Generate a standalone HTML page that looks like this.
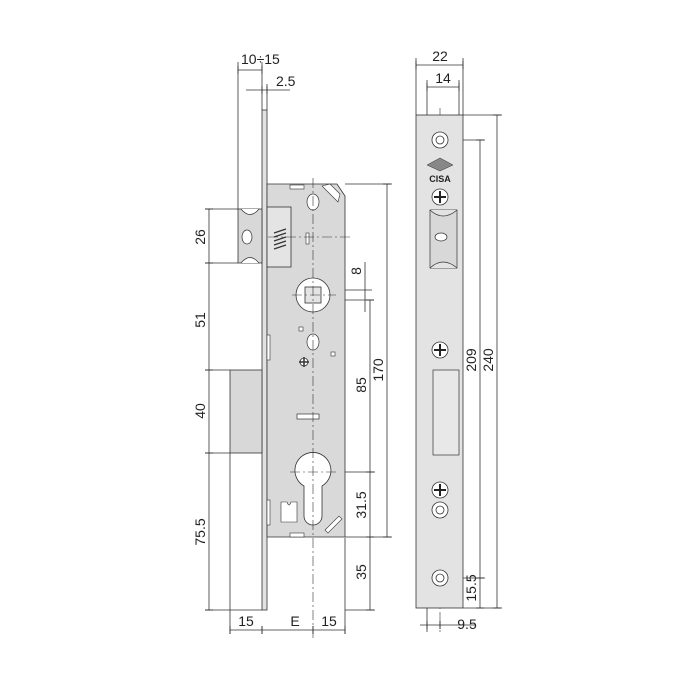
<!DOCTYPE html>
<html><head><meta charset="utf-8"><style>
html,body{margin:0;padding:0;background:#fff}
svg{display:block}
text{font-family:"Liberation Sans",sans-serif;font-size:14px;fill:#222}
</style></head><body>
<svg width="700" height="700" viewBox="0 0 700 700" xmlns="http://www.w3.org/2000/svg">
<g stroke="#333" stroke-width="0.8" fill="none">
<line x1="238" y1="62" x2="238" y2="210"/>
<line x1="262" y1="62" x2="262" y2="110"/>
<line x1="267" y1="84" x2="267" y2="110"/>
<line x1="205" y1="209" x2="238" y2="209"/>
<line x1="205" y1="263" x2="238" y2="263"/>
<line x1="205" y1="370" x2="230" y2="370"/>
<line x1="205" y1="453" x2="230" y2="453"/>
<line x1="205" y1="610" x2="262" y2="610"/>
<line x1="230" y1="453" x2="230" y2="632"/>
<line x1="345" y1="538" x2="345" y2="632"/>
<line x1="345" y1="184" x2="392" y2="184"/>
<line x1="345" y1="537" x2="392" y2="537"/>
<line x1="313" y1="472" x2="375" y2="472"/>
<line x1="330" y1="290" x2="372" y2="290"/>
<line x1="330" y1="300" x2="372" y2="300"/>
<line x1="345" y1="610" x2="375" y2="610"/>
<line x1="209" y1="209" x2="209" y2="610"/>
<line x1="387" y1="184" x2="387" y2="537"/>
<line x1="370" y1="300" x2="370" y2="610"/>
<line x1="365" y1="262" x2="365" y2="312"/>
<line x1="238" y1="70" x2="262" y2="70"/>
<line x1="246" y1="90" x2="290" y2="90"/>
<line x1="230" y1="630" x2="345" y2="630"/>
</g>
<rect x="262" y="110" width="5" height="500" fill="#e2e2e2" stroke="#333" stroke-width="0.8"/>
<rect x="230" y="370" width="32" height="83" fill="#d8d8d8" stroke="#333" stroke-width="0.8"/>
<rect x="238" y="209" width="24" height="54" fill="#d8d8d8" stroke="#333" stroke-width="0.8"/>
<ellipse cx="247" cy="237" rx="5" ry="7" fill="#fff" stroke="#333" stroke-width="0.7"/>
<path d="M241 209 Q250 220 259 209 M241 263 Q250 252 259 263" fill="#fff" stroke="#333" stroke-width="0.7"/>
<path d="M267 184 H337 L345 196 V537 H267 Z" fill="#d9d9d9" stroke="#333" stroke-width="0.8"/>
<rect x="267" y="207" width="24" height="60" fill="#e4e4e4" stroke="#333" stroke-width="0.8"/>
<path d="M274 233 l12 -4 M274 237 l12 -4 M274 241 l12 -4 M274 245 l12 -4 M274 249 l12 -4" stroke="#333" stroke-width="1.2"/>
<rect x="290" y="185" width="14" height="4" fill="#fff" stroke="#333" stroke-width="0.6"/>
<rect x="290" y="533" width="14" height="4" fill="#fff" stroke="#333" stroke-width="0.6"/>
<ellipse cx="313" cy="202" rx="6" ry="8" fill="#fff" stroke="#333" stroke-width="0.7"/>
<ellipse cx="313" cy="342" rx="6" ry="8" fill="#fff" stroke="#333" stroke-width="0.7"/>
<rect x="306" y="233" width="3" height="11" fill="#fff" stroke="#333" stroke-width="0.6"/>
<circle cx="313" cy="295" r="17" fill="#fff" stroke="#333" stroke-width="0.8"/>
<rect x="305" y="287" width="16" height="16" fill="#e4e4e4" stroke="#333" stroke-width="0.8"/>
<rect x="299" y="327" width="4" height="4" fill="#fff" stroke="#333" stroke-width="0.6"/>
<rect x="331" y="352" width="4" height="4" fill="#fff" stroke="#333" stroke-width="0.6"/>
<circle cx="304" cy="362" r="4" fill="#fff" stroke="#333" stroke-width="0.8"/>
<path d="M304 357 v10 M299 362 h10" stroke="#333" stroke-width="1.5"/>
<rect x="297" y="414" width="22" height="5" fill="#fff" stroke="#333" stroke-width="0.7"/>
<path d="M295 472 A18 18 0 1 1 322 486 V516 A9 9 0 0 1 304 516 V486 A18 18 0 0 1 295 472 Z" fill="#fff" stroke="#333" stroke-width="0.8"/>
<path d="M281 502 h6 q2 6 4 0 h6 v20 h-16 z" fill="#fff" stroke="#333" stroke-width="0.6"/>
<rect x="267" y="500" width="3" height="25" fill="#fff" stroke="#333" stroke-width="0.6"/>
<rect x="267" y="335" width="3" height="25" fill="#fff" stroke="#333" stroke-width="0.6"/>
<path d="M325 530 l14 -14 l3 3 l-14 14 z M322 186 l8 -2 l10 10 l-2 8 z" fill="#fff" stroke="#333" stroke-width="0.6"/>
<g stroke="#333" stroke-width="0.6" stroke-dasharray="10 3 2 3">
<line x1="313" y1="178" x2="313" y2="640"/>
<line x1="268" y1="237" x2="350" y2="237"/>
<line x1="292" y1="295" x2="336" y2="295"/>
<line x1="290" y1="472" x2="336" y2="472"/>
<line x1="440" y1="108" x2="440" y2="632"/>
</g>
<g stroke="#333" stroke-width="1">
<path d="M205 209h8M205 263h8M205 370h8M205 453h8M205 610h8M383 184h8M383 537h8M366 472h8M366 537h8M366 610h8M366 300h8M230 626v8M262 626v8M313 626v8M345 626v8M238 66v8M262 66v8M262 86v8M267 86v8"/>
</g>
<text x="241" y="64">10÷15</text>
<text x="276" y="86">2.5</text>
<text transform="translate(205,237) rotate(-90)" text-anchor="middle">26</text>
<text transform="translate(205,320) rotate(-90)" text-anchor="middle">51</text>
<text transform="translate(205,411) rotate(-90)" text-anchor="middle">40</text>
<text transform="translate(205,532) rotate(-90)" text-anchor="middle">75.5</text>
<text transform="translate(361,271) rotate(-90)" text-anchor="middle">8</text>
<text transform="translate(383,370) rotate(-90)" text-anchor="middle">170</text>
<text transform="translate(366,385) rotate(-90)" text-anchor="middle">85</text>
<text transform="translate(366,505) rotate(-90)" text-anchor="middle">31.5</text>
<text transform="translate(366,572) rotate(-90)" text-anchor="middle">35</text>
<text x="246" y="626" text-anchor="middle">15</text>
<text x="295" y="626" text-anchor="middle">E</text>
<text x="329" y="626" text-anchor="middle">15</text>
<g stroke="#333" stroke-width="0.8" fill="none">
<line x1="416" y1="58" x2="416" y2="115"/>
<line x1="463" y1="58" x2="463" y2="115"/>
<line x1="427" y1="80" x2="427" y2="210"/>
<line x1="459" y1="80" x2="459" y2="210"/>
<line x1="416" y1="65" x2="463" y2="65"/>
<line x1="427" y1="87" x2="459" y2="87"/>
<line x1="463" y1="115" x2="502" y2="115"/>
<line x1="463" y1="608" x2="502" y2="608"/>
<line x1="450" y1="140" x2="485" y2="140"/>
<line x1="450" y1="578" x2="485" y2="578"/>
<line x1="497" y1="115" x2="497" y2="608"/>
<line x1="480" y1="140" x2="480" y2="608"/>
<line x1="427" y1="600" x2="427" y2="632"/>
<line x1="420" y1="625" x2="475" y2="625"/>
</g>
<rect x="416" y="115" width="47" height="493" fill="#e3e3e3" stroke="#333" stroke-width="0.8"/>
<path d="M430 210 H457 V268 H430 Z" fill="#d8d8d8" stroke="#333" stroke-width="0.7"/>
<path d="M430 210 Q443 222 457 210 M430 268 Q443 256 457 268" fill="#e3e3e3" stroke="#333" stroke-width="0.7"/>
<ellipse cx="441" cy="237" rx="6" ry="4" fill="#fff" stroke="#333" stroke-width="0.7"/>
<rect x="433" y="370" width="26" height="85" fill="#e8e8e8" stroke="#333" stroke-width="0.7"/>
<g fill="#fff" stroke="#333" stroke-width="0.8">
<circle cx="440" cy="140" r="8"/><circle cx="440" cy="140" r="4"/>
<circle cx="440" cy="197" r="8"/><circle cx="440" cy="350" r="8"/><circle cx="440" cy="490" r="8"/>
<circle cx="440" cy="510" r="8"/><circle cx="440" cy="510" r="4"/>
<circle cx="440" cy="578" r="8"/><circle cx="440" cy="578" r="4"/>
</g>
<path d="M440 191v12M434 197h12M440 344v12M434 350h12M440 484v12M434 490h12" stroke="#222" stroke-width="2"/>
<path d="M427 165 l13 -7 l13 7 l-13 6 z" fill="#888" stroke="#333" stroke-width="0.5"/>
<text x="440" y="182" text-anchor="middle" style="font-size:9px;font-weight:bold">CISA</text>
<g stroke="#333" stroke-width="1"><path d="M416 61v8M463 61v8M427 83v8M459 83v8M493 115h8M493 608h8M476 140h8M476 578h8M476 608h8M427 621v8M440 621v8"/></g>
<text x="440" y="61" text-anchor="middle">22</text>
<text x="443" y="83" text-anchor="middle">14</text>
<text transform="translate(493,360) rotate(-90)" text-anchor="middle">240</text>
<text transform="translate(476,360) rotate(-90)" text-anchor="middle">209</text>
<text transform="translate(476,588) rotate(-90)" text-anchor="middle">15.5</text>
<text x="467" y="629" text-anchor="middle">9.5</text>
</svg>
</body></html>
